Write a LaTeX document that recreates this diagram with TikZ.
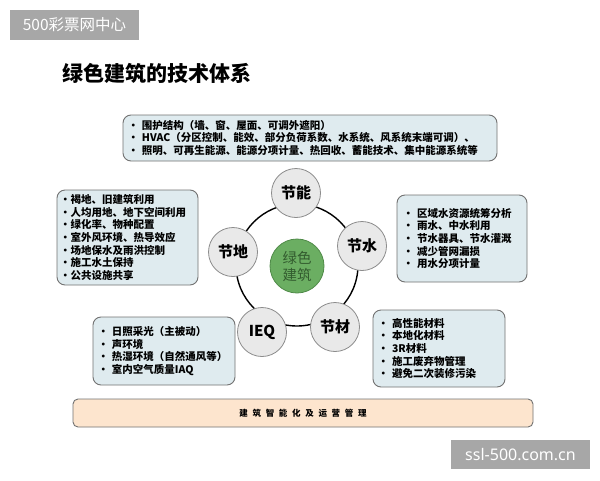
\documentclass[tikz,border=0pt]{standalone}
\usepackage{fontspec}
\setmainfont{Noto Sans CJK SC}
\newfontfamily\latinsans{Noto Sans}
\usepackage{xcolor}
\usetikzlibrary{positioning}

\definecolor{boxfill}{HTML}{DFEBEF}
\definecolor{boxline}{HTML}{727272}
\definecolor{circfill}{HTML}{E9E9E9}
\definecolor{circline}{HTML}{8C8C8C}
\definecolor{hubfill}{HTML}{6BAE62}
\definecolor{hubline}{HTML}{4F8A48}
\definecolor{hubtext}{HTML}{335C2F}
\definecolor{barfill}{HTML}{FDE5CE}
\definecolor{markgray}{HTML}{A7A7A7}

\tikzset{
  infobox/.style={draw=boxline, fill=boxfill, line width=0.9pt, rounded corners=8pt,
    align=left, inner ysep=0pt, font=\bfseries\fontsize{10.5}{12.6}\selectfont},
  topic/.style={circle, draw=circline, fill=circfill, line width=0.8pt,
    minimum size=49pt, inner sep=0pt, font=\bfseries\fontsize{15}{17}\selectfont},
  wmark/.style={fill=markgray, text=white, inner sep=0pt},
}

\begin{document}
\begin{tikzpicture}[x=1pt,y=-1pt]
  \useasboundingbox (0,0) rectangle (600,480);
  \fill[white] (0,0) rectangle (600,480);

  % Watermarks
  \node[wmark, minimum width=129pt, minimum height=30pt, font=\fontsize{15.5}{17}\selectfont]
    (topmark) at (74.5,25) {500彩票网中心};
  \node[wmark, minimum width=139pt, minimum height=29pt, font=\latinsans\fontsize{16}{18}\selectfont]
    (bottommark) at (520.5,454.5) {ssl-500.com.cn};

  % Title
  \node[anchor=west, inner sep=0pt, font=\bfseries\fontsize{21}{23}\selectfont]
    (title) at (62,73) {绿色建筑的技术体系};

  % Ring and topics
  \coordinate (ringc) at (297,265);
  \draw[line width=1.4pt] (ringc) circle[radius=61pt];
  \node[circle, draw=hubline, fill=hubfill, line width=0.8pt, minimum size=54pt, inner sep=0pt,
    align=center, text=hubtext, font=\fontsize{14.5}{17}\selectfont] (hub) at (297,266) {绿色\\建筑};
  \node[topic] (energy) at (296,193) {节能};
  \node[topic] (water) at (362,246) {节水};
  \node[topic] (material) at (335,327) {节材};
  \node[topic] (ieq) at (262,332) {IEQ};
  \node[topic] (land) at (233,252) {节地};

  % Boxes
  \node[infobox, text width=364pt, inner xsep=5pt, minimum height=46pt] (energybox) at (310,138)
    {• 围护结构（墙、窗、屋面、可调外遮阳）\\
     • HVAC（分区控制、能效、部分负荷系数、水系统、风系统末端可调）、\\
     • 照明、可再生能源、能源分项计量、热回收、蓄能技术、集中能源系统等};
  \node[infobox, text width=135pt, inner xsep=3pt, minimum height=95pt] (landbox) at (127.5,237.5)
    {•褐地、旧建筑利用\\
     •人均用地、地下空间利用\\
     •绿化率、物种配置\\
     •室外风环境、热导效应\\
     •场地保水及雨洪控制\\
     •施工水土保持\\
     •公共设施共享};
  \node[infobox, text width=118pt, inner xsep=6pt, minimum height=87pt] (waterbox) at (462,238.5)
    {• 区域水资源统筹分析\\
     • 雨水、中水利用\\
     • 节水器具、节水灌溉\\
     • 减少管网漏损\\
     • 用水分项计量};
  \node[infobox, text width=132pt, inner xsep=5pt, minimum height=68pt] (ieqbox) at (164,351)
    {• 日照采光（主被动）\\
     • 声环境\\
     • 热湿环境（自然通风等）\\
     • 室内空气质量IAQ};
  \node[infobox, text width=122pt, inner xsep=5pt, minimum height=77pt] (materialbox) at (439,348.5)
    {• 高性能材料\\
     • 本地化材料\\
     • 3R材料\\
     • 施工废弃物管理\\
     • 避免二次装修污染};

  % Operation bar
  \node[draw=boxline, fill=barfill, line width=0.9pt, rounded corners=5pt,
    minimum width=460pt, minimum height=28pt, inner sep=0pt,
    font=\bfseries\fontsize{8.5}{10}\selectfont\addfontfeature{LetterSpace=55}]
    (opsbar) at (303,413) {建筑智能化及运营管理};
\end{tikzpicture}
\end{document}
